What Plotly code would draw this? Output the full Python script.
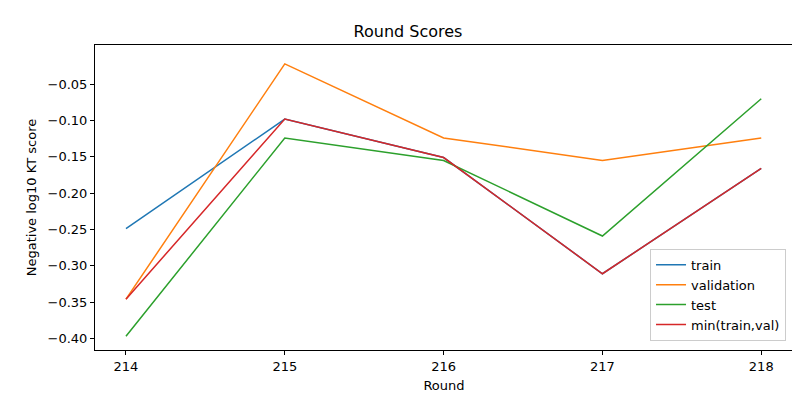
import plotly.graph_objects as go

rounds = [214, 215, 216, 217, 218]
train = [-0.249, -0.098, -0.151, -0.311, -0.166]
validation = [-0.346, -0.022, -0.124, -0.155, -0.124]
test = [-0.397, -0.124, -0.155, -0.259, -0.070]
min_tv = [-0.346, -0.098, -0.151, -0.311, -0.166]

series = [("train", train, "#1f77b4"), ("validation", validation, "#ff7f0e"),
          ("test", test, "#2ca02c"), ("min(train,val)", min_tv, "#d62728")]

fig = go.Figure()
for name, vals, col in series:
    fig.add_trace(go.Scatter(x=rounds, y=vals, mode="lines", name=name,
                             line=dict(color=col, width=1.5)))

axis = dict(showgrid=False, zeroline=False, showline=True, mirror=True, linecolor="black",
            linewidth=1, ticks="outside", ticklen=4, tickcolor="black", automargin=False,
            tickfont=dict(size=13, color="black"))
fig.update_layout(
    width=800, height=400, template="none",
    paper_bgcolor="white", plot_bgcolor="white",
    margin=dict(l=87, r=15, t=37, b=58, pad=0, autoexpand=False),
    font=dict(family="DejaVu Sans", color="black"),
    title=dict(text="Round Scores", x=0.5, xanchor="center", y=0.942, yanchor="middle",
               font=dict(size=16), automargin=False),
    xaxis=dict(axis, range=[213.805, 218.2], tickvals=rounds,
               title=dict(text="Round", font=dict(size=13), standoff=8)),
    yaxis=dict(axis, range=[-0.416, 0.004], tickvals=[-0.40, -0.35, -0.30, -0.25, -0.20, -0.15, -0.10, -0.05],
               tickformat=".2f", title=dict(text="Negative log10 KT score", font=dict(size=13), standoff=8)),
    legend=dict(x=0.99, y=0.03, xanchor="right", yanchor="bottom", bgcolor="white",
                bordercolor="#cccccc", borderwidth=1, font=dict(size=13)),
    showlegend=True,
)
fig.write_html("out.html")
